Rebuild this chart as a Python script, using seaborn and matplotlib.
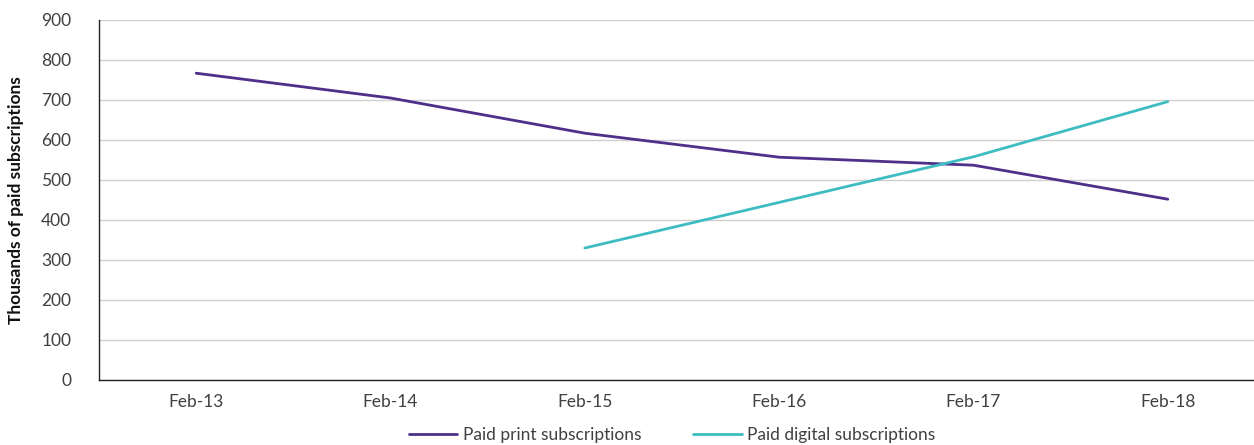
import matplotlib
matplotlib.use("Agg")
import matplotlib.pyplot as plt
import seaborn as sns
import pandas as pd
import numpy as np

categories = ["Feb-13", "Feb-14", "Feb-15", "Feb-16", "Feb-17", "Feb-18"]
print_subs = [767, 705, 617, 557, 537, 452]
digital_subs = [np.nan, np.nan, 330, 444, 558, 696]
series_names = ["Paid print subscriptions", "Paid digital subscriptions"]
colors = ["#4E2F8A", "#3DBCC2"]

sns.set_theme(style="white")
plt.rcParams["font.family"] = ["Lato", "DejaVu Sans"]

df = pd.DataFrame({
    "period": categories * 2,
    "value": print_subs + digital_subs,
    "series": [series_names[0]] * 6 + [series_names[1]] * 6,
})
df["x"] = np.tile(np.arange(len(categories)), 2)

fig = plt.figure(figsize=(12.54, 4.45), dpi=100)
ax = fig.add_axes([99 / 1254, 65 / 445, 1166 / 1254, 360 / 445])

sns.lineplot(data=df, x="x", y="value", hue="series", palette=colors,
             linewidth=2, ax=ax, legend=True)

ax.set_xlim(-0.5, 5.5)
ax.set_ylim(0, 900)
ax.set_yticks(range(0, 901, 100))
ax.set_xticks(range(len(categories)))
ax.set_xticklabels(categories)
ax.yaxis.grid(True, color="#cfcfcf", linewidth=1)
ax.set_axisbelow(True)
for s in ["top", "right"]:
    ax.spines[s].set_visible(False)
ax.spines["left"].set_color("#222222")
ax.spines["bottom"].set_color("#222222")
ax.spines["left"].set_linewidth(1)
ax.spines["bottom"].set_linewidth(1)
ax.tick_params(axis="both", length=0, labelsize=12.5, colors="#404040", pad=10)
ax.tick_params(axis="y", pad=20)
ax.set_xlabel("")
ax.set_ylabel("Thousands of paid subscriptions", fontsize=12.5, fontweight="bold",
              color="#111111", labelpad=12)

handles, labels = ax.get_legend_handles_labels()
ax.legend(handles, labels, loc="center", bbox_to_anchor=(672 / 1254, 10 / 445),
          bbox_transform=fig.transFigure, ncol=2, frameon=False, fontsize=12.5,
          handlelength=2.8, columnspacing=3.0, handletextpad=0.3,
          labelcolor="#404040")

fig.savefig("out.png", dpi=100)
